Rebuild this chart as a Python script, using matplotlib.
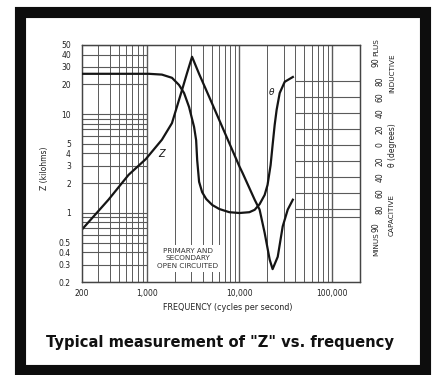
import matplotlib
matplotlib.use("Agg")
import matplotlib.pyplot as plt
from matplotlib.patches import Rectangle
from matplotlib.ticker import NullLocator

# ---------------- data ----------------
z_freq = [200, 386, 637, 975, 1456, 1870, 2400, 2720, 3080, 3670, 4720, 6530,
          10000, 10800, 14600, 16500, 18700, 21200, 22800, 25900, 29300, 33200, 37700]
z_kohm = [0.68, 1.36, 2.43, 3.5, 5.5, 8.1, 17.5, 26, 38, 25.5, 14.9, 7.4,
          2.95, 2.54, 1.36, 1.08, 0.63, 0.337, 0.27, 0.36, 0.73, 1.08, 1.36]

theta_freq = [200, 637, 1050, 1456, 1870, 2230, 2525, 2860, 3240, 3410, 3500, 3670,
              3960, 4380, 5090, 6060, 7780, 10000, 12800, 14600, 16500, 18700,
              20100, 21700, 22800, 24000, 25200, 27200, 30800, 37700]
theta_deg = [89, 89, 89, 88, 84, 75, 65, 47.5, 22.5, 6, -19, -46,
             -59, -67.5, -75, -80, -84, -85, -84, -81, -74, -62.5,
             -50, -25, 0, 25, 44, 65, 79, 85]

x_ticks = [200, 1000, 10000, 100000]
x_ticklabels = ["200", "1,000", "10,000", "100,000"]
z_ticks = [0.2, 0.3, 0.4, 0.5, 1, 2, 3, 4, 5, 10, 20, 30, 40, 50]
z_ticklabels = ["0.2", "0.3", "0.4", "0.5", "1", "2", "3", "4", "5", "10", "20", "30", "40", "50"]
theta_ticks = [80, 60, 40, 20, 0, -20, -40, -60, -80]
theta_ticklabels = ["80", "60", "40", "20", "0", "20", "40", "60", "80"]
theta_grid = [80, 60, 40, 20, 0, -20, -40, -60, -80, -90]

# grid paper lines
vgrid = ([200, 300, 400, 500, 600, 700, 800, 900] +
         [1000 * k for k in range(1, 10)] +
         [10000 * k for k in range(1, 10)] + [100000])
vgrid_major = [1000, 10000, 100000]
zgrid = ([0.1 * k for k in range(2, 10)] + list(range(1, 10)) + [10, 20, 30, 40, 50])

INK = "#151515"
GRID = "#5a5a5a"

plt.rcParams["font.family"] = ["DejaVu Sans"]

fig = plt.figure(figsize=(4.39, 3.75), dpi=100)
fig.patch.set_facecolor("white")

W, H = 439.0, 375.0
ax = fig.add_axes([82 / W, 1 - 282 / H, 278 / W, 237 / H])
ax.set_xscale("log")
ax.set_yscale("log")
ax.set_xlim(200, 200000)
ax.set_ylim(0.2, 50)

ax2 = ax.twinx()
ax2.set_ylim(-171.25, 125)

# vertical grid lines
for f in vgrid:
    lw = 1.0 if f in vgrid_major else 0.7
    ax.axvline(f, color=GRID, lw=lw, zorder=1)
# horizontal Z grid only in the low-frequency block
ax.hlines(zgrid, 200, 1000, color=GRID, lw=0.8, zorder=1)
# horizontal theta grid in the high-frequency block
ax2.hlines(theta_grid, 40000, 200000, color=GRID, lw=0.8, zorder=1)

# curves
ax.plot(z_freq, z_kohm, color=INK, lw=1.6, zorder=3, solid_joinstyle="round")
ax2.plot(theta_freq, theta_deg, color=INK, lw=1.6, zorder=3, solid_joinstyle="round")

# curve labels
ax.text(1450, 3.9, "Z", fontsize=7, color=INK, ha="center", va="center", style="italic")
ax2.text(22000, 66, "θ", fontsize=6.5, color=INK, ha="center", va="center", style="italic")

# note
ax.text(0.38, 0.10, "PRIMARY AND\nSECONDARY\nOPEN CIRCUITED", transform=ax.transAxes,
        fontsize=5.2, color="#333333", ha="center", va="center", linespacing=1.25,
        bbox=dict(facecolor="white", edgecolor="none", pad=2.5), zorder=4)

# spines
for a in (ax, ax2):
    for s in a.spines.values():
        s.set_color("#444444")
        s.set_linewidth(0.9)

# ticks
ax.set_xticks(x_ticks)
ax.set_xticklabels(x_ticklabels)
ax.xaxis.set_minor_locator(NullLocator())
ax.set_yticks(z_ticks)
ax.set_yticklabels(z_ticklabels)
ax.yaxis.set_minor_locator(NullLocator())
ax.tick_params(axis="both", length=0, labelsize=5.5, colors="#222222")
ax.tick_params(axis="x", pad=5)
ax.tick_params(axis="y", pad=8)

ax2.set_yticks(theta_ticks)
ax2.set_yticklabels(theta_ticklabels, rotation=90, va="center")
ax2.yaxis.set_minor_locator(NullLocator())
ax2.tick_params(axis="y", length=0, labelsize=5.5, colors="#222222", pad=11)

# extra right-column text
xr1 = (376 - 82) / 278.0
xr2 = (392 - 82) / 278.0
ax2.text(xr1, 103, "90", transform=ax2.get_yaxis_transform(), rotation=90,
         fontsize=5.5, ha="center", va="center", color="#222222")
ax2.text(xr1, -103, "90", transform=ax2.get_yaxis_transform(), rotation=90,
         fontsize=5.5, ha="center", va="center", color="#222222")
ax2.text(xr1, 122, "PLUS", transform=ax2.get_yaxis_transform(), rotation=90,
         fontsize=5.2, ha="center", va="center", color="#222222")
ax2.text(xr1, -124, "MINUS", transform=ax2.get_yaxis_transform(), rotation=90,
         fontsize=5.2, ha="center", va="center", color="#222222")
ax2.text(xr2, 90, "INDUCTIVE", transform=ax2.get_yaxis_transform(), rotation=90,
         fontsize=5.2, ha="center", va="center", color="#222222")
ax2.text(xr2, 0, "θ (degrees)", transform=ax2.get_yaxis_transform(), rotation=90,
         fontsize=5.5, ha="center", va="center", color="#222222")
ax2.text(xr2, -87, "CAPACITIVE", transform=ax2.get_yaxis_transform(), rotation=90,
         fontsize=5.2, ha="center", va="center", color="#222222")

# axis labels
fig.text(45 / W, 1 - 168 / H, "Z (kilohms)", rotation=90, fontsize=5.5,
         ha="center", va="center", color="#222222")
fig.text(228 / W, 1 - 307 / H, "FREQUENCY (cycles per second)", fontsize=5.8,
         ha="center", va="center", color="#222222")

# caption
fig.text(220 / W, 1 - 342 / H, "Typical measurement of \"Z\" vs. frequency",
         fontsize=10.6, fontweight="bold", ha="center", va="center", color="#111111")

# thick frame
fig.patches.append(Rectangle((20.5 / W, 1 - 370 / H), 405 / W, 358 / H,
                             transform=fig.transFigure, fill=False,
                             edgecolor="#0d0d0d", linewidth=8))

fig.savefig("out.png", dpi=100, facecolor="white")
